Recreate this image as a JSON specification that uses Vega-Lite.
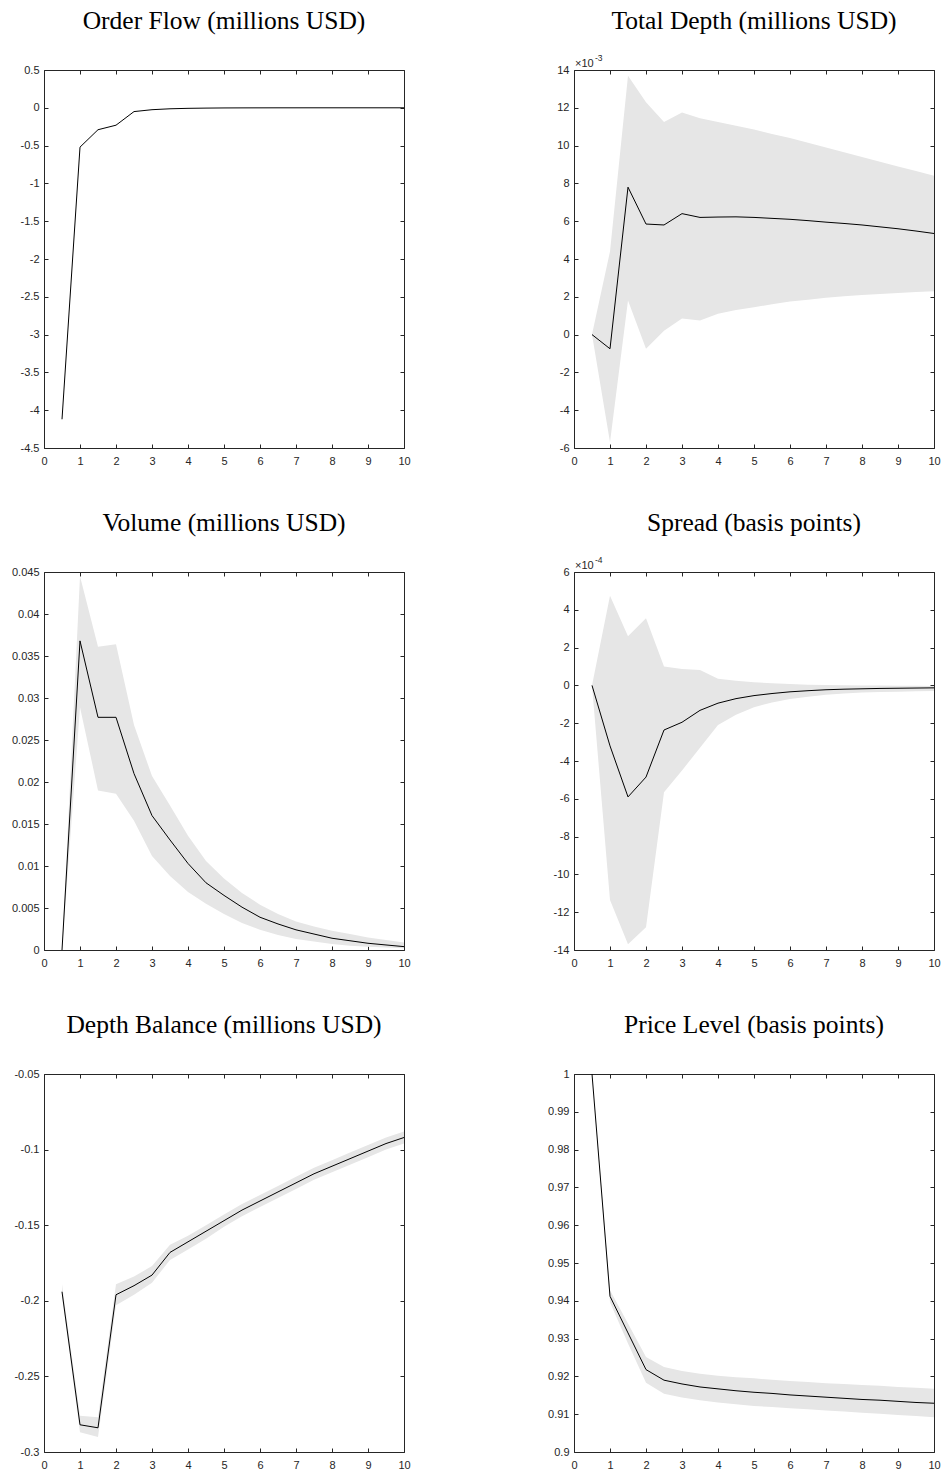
{
  "$schema": "https://vega.github.io/schema/vega-lite/v6.json",
  "background": "white",
  "padding": {"left": 11, "top": 8, "right": 5, "bottom": 2},
  "datasets": {
    "irf": [
      {"p":"of","x":0.5,"y":-4.12},{"p":"of","x":1,"y":-0.52},{"p":"of","x":1.5,"y":-0.29},{"p":"of","x":2,"y":-0.23},{"p":"of","x":2.5,"y":-0.05},{"p":"of","x":3,"y":-0.025},{"p":"of","x":3.5,"y":-0.013},{"p":"of","x":4,"y":-0.007},{"p":"of","x":4.5,"y":-0.004},{"p":"of","x":5,"y":-0.002},{"p":"of","x":5.5,"y":-0.001},{"p":"of","x":6,"y":-0.0006},{"p":"of","x":6.5,"y":-0.0003},{"p":"of","x":7,"y":-0.0002},{"p":"of","x":7.5,"y":-0.0001},{"p":"of","x":8,"y":-0.0001},{"p":"of","x":8.5,"y":0},{"p":"of","x":9,"y":0},{"p":"of","x":9.5,"y":0},{"p":"of","x":10,"y":0},

      {"p":"td","x":0.5,"y":0,"lo":0,"hi":0},{"p":"td","x":1,"y":-0.00075,"lo":-0.0057,"hi":0.0044},{"p":"td","x":1.5,"y":0.0078,"lo":0.0018,"hi":0.0137},{"p":"td","x":2,"y":0.00585,"lo":-0.00075,"hi":0.0123},{"p":"td","x":2.5,"y":0.0058,"lo":0.0002,"hi":0.01125},{"p":"td","x":3,"y":0.0064,"lo":0.00085,"hi":0.01175},{"p":"td","x":3.5,"y":0.0062,"lo":0.00075,"hi":0.01145},{"p":"td","x":4,"y":0.00622,"lo":0.0011,"hi":0.01125},{"p":"td","x":4.5,"y":0.00623,"lo":0.0013,"hi":0.01105},{"p":"td","x":5,"y":0.0062,"lo":0.00145,"hi":0.01085},{"p":"td","x":5.5,"y":0.00615,"lo":0.0016,"hi":0.01062},{"p":"td","x":6,"y":0.0061,"lo":0.00175,"hi":0.0104},{"p":"td","x":6.5,"y":0.00603,"lo":0.00185,"hi":0.01015},{"p":"td","x":7,"y":0.00595,"lo":0.00195,"hi":0.0099},{"p":"td","x":7.5,"y":0.00588,"lo":0.00203,"hi":0.00965},{"p":"td","x":8,"y":0.0058,"lo":0.0021,"hi":0.0094},{"p":"td","x":8.5,"y":0.0057,"lo":0.00215,"hi":0.00915},{"p":"td","x":9,"y":0.0056,"lo":0.0022,"hi":0.0089},{"p":"td","x":9.5,"y":0.00548,"lo":0.00225,"hi":0.00865},{"p":"td","x":10,"y":0.00535,"lo":0.0023,"hi":0.0084},

      {"p":"vol","x":0.5,"y":0,"lo":0,"hi":0},{"p":"vol","x":1,"y":0.0368,"lo":0.0289,"hi":0.0445},{"p":"vol","x":1.5,"y":0.0277,"lo":0.019,"hi":0.0361},{"p":"vol","x":2,"y":0.0277,"lo":0.0186,"hi":0.0364},{"p":"vol","x":2.5,"y":0.021,"lo":0.0154,"hi":0.0268},{"p":"vol","x":3,"y":0.016,"lo":0.0112,"hi":0.0207},{"p":"vol","x":3.5,"y":0.0131,"lo":0.0088,"hi":0.0172},{"p":"vol","x":4,"y":0.0103,"lo":0.0069,"hi":0.0136},{"p":"vol","x":4.5,"y":0.008,"lo":0.0055,"hi":0.0106},{"p":"vol","x":5,"y":0.0065,"lo":0.0043,"hi":0.0085},{"p":"vol","x":5.5,"y":0.0051,"lo":0.0032,"hi":0.0068},{"p":"vol","x":6,"y":0.0039,"lo":0.0024,"hi":0.0054},{"p":"vol","x":6.5,"y":0.0031,"lo":0.0018,"hi":0.0043},{"p":"vol","x":7,"y":0.0024,"lo":0.0013,"hi":0.0034},{"p":"vol","x":7.5,"y":0.0019,"lo":0.001,"hi":0.0028},{"p":"vol","x":8,"y":0.0014,"lo":0.0007,"hi":0.0023},{"p":"vol","x":8.5,"y":0.0011,"lo":0.0005,"hi":0.0019},{"p":"vol","x":9,"y":0.0008,"lo":0.0004,"hi":0.0015},{"p":"vol","x":9.5,"y":0.0006,"lo":0.0003,"hi":0.0012},{"p":"vol","x":10,"y":0.0004,"lo":0.0002,"hi":0.0009},

      {"p":"sp","x":0.5,"y":0,"lo":0,"hi":0},{"p":"sp","x":1,"y":-0.00032,"lo":-0.001135,"hi":0.000475},{"p":"sp","x":1.5,"y":-0.00059,"lo":-0.00137,"hi":0.00026},{"p":"sp","x":2,"y":-0.000485,"lo":-0.00128,"hi":0.000355},{"p":"sp","x":2.5,"y":-0.000236,"lo":-0.000565,"hi":0.0001},{"p":"sp","x":3,"y":-0.000195,"lo":-0.00045,"hi":0.000087},{"p":"sp","x":3.5,"y":-0.000132,"lo":-0.00033,"hi":0.000082},{"p":"sp","x":4,"y":-0.000094,"lo":-0.00021,"hi":0.000035},{"p":"sp","x":4.5,"y":-0.00007,"lo":-0.000155,"hi":0.000025},{"p":"sp","x":5,"y":-0.000054,"lo":-0.000115,"hi":0.000017},{"p":"sp","x":5.5,"y":-0.000043,"lo":-0.00009,"hi":0.000011},{"p":"sp","x":6,"y":-0.000034,"lo":-0.000072,"hi":0.000007},{"p":"sp","x":6.5,"y":-0.000028,"lo":-0.00006,"hi":0.000004},{"p":"sp","x":7,"y":-0.000023,"lo":-0.00005,"hi":0.000002},{"p":"sp","x":7.5,"y":-0.00002,"lo":-0.000043,"hi":0.000001},{"p":"sp","x":8,"y":-0.000018,"lo":-0.000038,"hi":0},{"p":"sp","x":8.5,"y":-0.000016,"lo":-0.000035,"hi":-0.000001},{"p":"sp","x":9,"y":-0.000015,"lo":-0.000033,"hi":-0.000002},{"p":"sp","x":9.5,"y":-0.000014,"lo":-0.000031,"hi":-0.000002},{"p":"sp","x":10,"y":-0.000013,"lo":-0.00003,"hi":-0.000003},

      {"p":"db","x":0.5,"y":-0.194,"lo":-0.197,"hi":-0.189},{"p":"db","x":1,"y":-0.282,"lo":-0.287,"hi":-0.276},{"p":"db","x":1.5,"y":-0.284,"lo":-0.29,"hi":-0.277},{"p":"db","x":2,"y":-0.196,"lo":-0.203,"hi":-0.189},{"p":"db","x":2.5,"y":-0.19,"lo":-0.196,"hi":-0.184},{"p":"db","x":3,"y":-0.183,"lo":-0.188,"hi":-0.177},{"p":"db","x":3.5,"y":-0.168,"lo":-0.173,"hi":-0.163},{"p":"db","x":4,"y":-0.161,"lo":-0.166,"hi":-0.157},{"p":"db","x":4.5,"y":-0.154,"lo":-0.159,"hi":-0.15},{"p":"db","x":5,"y":-0.147,"lo":-0.151,"hi":-0.143},{"p":"db","x":5.5,"y":-0.14,"lo":-0.144,"hi":-0.136},{"p":"db","x":6,"y":-0.134,"lo":-0.138,"hi":-0.13},{"p":"db","x":6.5,"y":-0.128,"lo":-0.132,"hi":-0.124},{"p":"db","x":7,"y":-0.122,"lo":-0.126,"hi":-0.118},{"p":"db","x":7.5,"y":-0.116,"lo":-0.12,"hi":-0.112},{"p":"db","x":8,"y":-0.111,"lo":-0.115,"hi":-0.107},{"p":"db","x":8.5,"y":-0.106,"lo":-0.11,"hi":-0.102},{"p":"db","x":9,"y":-0.101,"lo":-0.105,"hi":-0.097},{"p":"db","x":9.5,"y":-0.096,"lo":-0.1,"hi":-0.092},{"p":"db","x":10,"y":-0.092,"lo":-0.096,"hi":-0.088},

      {"p":"pl","x":0.5,"y":1,"lo":1,"hi":1},{"p":"pl","x":1,"y":0.9412,"lo":0.9396,"hi":0.9428},{"p":"pl","x":1.5,"y":0.9315,"lo":0.9287,"hi":0.934},{"p":"pl","x":2,"y":0.9218,"lo":0.9183,"hi":0.9251},{"p":"pl","x":2.5,"y":0.919,"lo":0.9154,"hi":0.9225},{"p":"pl","x":3,"y":0.918,"lo":0.9144,"hi":0.9214},{"p":"pl","x":3.5,"y":0.9172,"lo":0.9137,"hi":0.9207},{"p":"pl","x":4,"y":0.9167,"lo":0.9131,"hi":0.9202},{"p":"pl","x":4.5,"y":0.9162,"lo":0.9126,"hi":0.9198},{"p":"pl","x":5,"y":0.9158,"lo":0.9122,"hi":0.9195},{"p":"pl","x":5.5,"y":0.9155,"lo":0.9119,"hi":0.9191},{"p":"pl","x":6,"y":0.9151,"lo":0.9116,"hi":0.9188},{"p":"pl","x":6.5,"y":0.9148,"lo":0.9113,"hi":0.9185},{"p":"pl","x":7,"y":0.9145,"lo":0.911,"hi":0.9182},{"p":"pl","x":7.5,"y":0.9142,"lo":0.9107,"hi":0.918},{"p":"pl","x":8,"y":0.9139,"lo":0.9104,"hi":0.9177},{"p":"pl","x":8.5,"y":0.9137,"lo":0.9101,"hi":0.9175},{"p":"pl","x":9,"y":0.9134,"lo":0.9098,"hi":0.9172},{"p":"pl","x":9.5,"y":0.9131,"lo":0.9095,"hi":0.917},{"p":"pl","x":10,"y":0.9129,"lo":0.9092,"hi":0.9167}
    ]
  },
  "columns": 2,
  "spacing": {"row": 124, "column": 170},
  "bounds": "flush",
  "concat": [
    {
      "width": 360, "height": 378,
      "title": {"text": "Order Flow (millions USD)", "offset": 30},
      "layer": [
        {"data": {"name": "irf"}, "transform": [{"filter": "datum.p === 'of'"}],
         "mark": {"type": "area", "color": "#e6e6e6", "clip": true},
         "encoding": {
           "x": {"field": "x", "type": "quantitative", "scale": {"domain": [0, 10], "nice": false, "zero": false}, "axis": {"orient": "bottom", "title": null, "values": [0,1,2,3,4,5,6,7,8,9,10], "labelExpr": "'' + datum.value"}},
           "y": {"field": "lo", "type": "quantitative", "scale": {"domain": [-4.5, 0.5], "nice": false, "zero": false}, "axis": {"orient": "left", "title": null, "values": [-4.5,-4,-3.5,-3,-2.5,-2,-1.5,-1,-0.5,0,0.5], "labelExpr": "'' + datum.value"}},
           "y2": {"field": "hi"}
         }},
        {"data": {"name": "irf"}, "transform": [{"filter": "datum.p === 'of'"}],
         "mark": {"type": "line", "color": "#000000", "strokeWidth": 1, "clip": true},
         "encoding": {
           "x": {"field": "x", "type": "quantitative", "axis": {"orient": "top", "title": null, "values": [0,1,2,3,4,5,6,7,8,9,10]}},
           "y": {"field": "y", "type": "quantitative", "axis": {"orient": "right", "title": null, "values": [-4.5,-4,-3.5,-3,-2.5,-2,-1.5,-1,-0.5,0,0.5]}}
         }}
      ],
      "resolve": {"axis": {"x": "independent", "y": "independent"}}
    },
    {
      "width": 360, "height": 378,
      "title": {"text": "Total Depth (millions USD)", "offset": 20},
      "layer": [
        {"data": {"name": "irf"}, "transform": [{"filter": "datum.p === 'td'"}],
         "mark": {"type": "area", "color": "#e6e6e6", "clip": true},
         "encoding": {
           "x": {"field": "x", "type": "quantitative", "scale": {"domain": [0, 10], "nice": false, "zero": false}, "axis": {"orient": "bottom", "title": null, "values": [0,1,2,3,4,5,6,7,8,9,10], "labelExpr": "'' + datum.value"}},
           "y": {"field": "lo", "type": "quantitative", "scale": {"domain": [-0.006, 0.014], "nice": false, "zero": false}, "axis": {"orient": "left", "title": null, "values": [-0.006,-0.004,-0.002,0,0.002,0.004,0.006,0.008,0.01,0.012,0.014], "labelExpr": "'' + round(datum.value * 1000)"}},
           "y2": {"field": "hi"}
         }},
        {"data": {"name": "irf"}, "transform": [{"filter": "datum.p === 'td'"}],
         "mark": {"type": "line", "color": "#000000", "strokeWidth": 1, "clip": true},
         "encoding": {
           "x": {"field": "x", "type": "quantitative", "axis": {"orient": "top", "title": null, "values": [0,1,2,3,4,5,6,7,8,9,10]}},
           "y": {"field": "y", "type": "quantitative", "axis": {"orient": "right", "title": null, "values": [-0.006,-0.004,-0.002,0,0.002,0.004,0.006,0.008,0.01,0.012,0.014]}}
         }},
        {"data": {"values": [{}]},
         "mark": {"type": "text", "text": "×10", "align": "left", "baseline": "alphabetic", "dx": 1, "dy": -3, "font": "Liberation Sans", "fontSize": 11, "color": "#262626"},
         "encoding": {"x": {"datum": 0, "type": "quantitative", "axis": null}, "y": {"datum": 0.014, "type": "quantitative", "axis": null}}},
        {"data": {"values": [{}]},
         "mark": {"type": "text", "text": "-3", "align": "left", "baseline": "alphabetic", "dx": 21, "dy": -9, "font": "Liberation Sans", "fontSize": 8.5, "color": "#262626"},
         "encoding": {"x": {"datum": 0, "type": "quantitative", "axis": null}, "y": {"datum": 0.014, "type": "quantitative", "axis": null}}}
      ],
      "resolve": {"axis": {"x": "independent", "y": "independent"}}
    },
    {
      "width": 360, "height": 378,
      "title": {"text": "Volume (millions USD)", "offset": 30},
      "layer": [
        {"data": {"name": "irf"}, "transform": [{"filter": "datum.p === 'vol'"}],
         "mark": {"type": "area", "color": "#e6e6e6", "clip": true},
         "encoding": {
           "x": {"field": "x", "type": "quantitative", "scale": {"domain": [0, 10], "nice": false, "zero": false}, "axis": {"orient": "bottom", "title": null, "values": [0,1,2,3,4,5,6,7,8,9,10], "labelExpr": "'' + datum.value"}},
           "y": {"field": "lo", "type": "quantitative", "scale": {"domain": [0, 0.045], "nice": false, "zero": false}, "axis": {"orient": "left", "title": null, "values": [0,0.005,0.01,0.015,0.02,0.025,0.03,0.035,0.04,0.045], "labelExpr": "'' + datum.value"}},
           "y2": {"field": "hi"}
         }},
        {"data": {"name": "irf"}, "transform": [{"filter": "datum.p === 'vol'"}],
         "mark": {"type": "line", "color": "#000000", "strokeWidth": 1, "clip": true},
         "encoding": {
           "x": {"field": "x", "type": "quantitative", "axis": {"orient": "top", "title": null, "values": [0,1,2,3,4,5,6,7,8,9,10]}},
           "y": {"field": "y", "type": "quantitative", "axis": {"orient": "right", "title": null, "values": [0,0.005,0.01,0.015,0.02,0.025,0.03,0.035,0.04,0.045]}}
         }}
      ],
      "resolve": {"axis": {"x": "independent", "y": "independent"}}
    },
    {
      "width": 360, "height": 378,
      "title": {"text": "Spread (basis points)", "offset": 20},
      "layer": [
        {"data": {"name": "irf"}, "transform": [{"filter": "datum.p === 'sp'"}],
         "mark": {"type": "area", "color": "#e6e6e6", "clip": true},
         "encoding": {
           "x": {"field": "x", "type": "quantitative", "scale": {"domain": [0, 10], "nice": false, "zero": false}, "axis": {"orient": "bottom", "title": null, "values": [0,1,2,3,4,5,6,7,8,9,10], "labelExpr": "'' + datum.value"}},
           "y": {"field": "lo", "type": "quantitative", "scale": {"domain": [-0.0014, 0.0006], "nice": false, "zero": false}, "axis": {"orient": "left", "title": null, "values": [-0.0014,-0.0012,-0.001,-0.0008,-0.0006,-0.0004,-0.0002,0,0.0002,0.0004,0.0006], "labelExpr": "'' + round(datum.value * 10000)"}},
           "y2": {"field": "hi"}
         }},
        {"data": {"name": "irf"}, "transform": [{"filter": "datum.p === 'sp'"}],
         "mark": {"type": "line", "color": "#000000", "strokeWidth": 1, "clip": true},
         "encoding": {
           "x": {"field": "x", "type": "quantitative", "axis": {"orient": "top", "title": null, "values": [0,1,2,3,4,5,6,7,8,9,10]}},
           "y": {"field": "y", "type": "quantitative", "axis": {"orient": "right", "title": null, "values": [-0.0014,-0.0012,-0.001,-0.0008,-0.0006,-0.0004,-0.0002,0,0.0002,0.0004,0.0006]}}
         }},
        {"data": {"values": [{}]},
         "mark": {"type": "text", "text": "×10", "align": "left", "baseline": "alphabetic", "dx": 1, "dy": -3, "font": "Liberation Sans", "fontSize": 11, "color": "#262626"},
         "encoding": {"x": {"datum": 0, "type": "quantitative", "axis": null}, "y": {"datum": 0.0006, "type": "quantitative", "axis": null}}},
        {"data": {"values": [{}]},
         "mark": {"type": "text", "text": "-4", "align": "left", "baseline": "alphabetic", "dx": 21, "dy": -9, "font": "Liberation Sans", "fontSize": 8.5, "color": "#262626"},
         "encoding": {"x": {"datum": 0, "type": "quantitative", "axis": null}, "y": {"datum": 0.0006, "type": "quantitative", "axis": null}}}
      ],
      "resolve": {"axis": {"x": "independent", "y": "independent"}}
    },
    {
      "width": 360, "height": 378,
      "title": {"text": "Depth Balance (millions USD)", "offset": 30},
      "layer": [
        {"data": {"name": "irf"}, "transform": [{"filter": "datum.p === 'db'"}],
         "mark": {"type": "area", "color": "#e6e6e6", "clip": true},
         "encoding": {
           "x": {"field": "x", "type": "quantitative", "scale": {"domain": [0, 10], "nice": false, "zero": false}, "axis": {"orient": "bottom", "title": null, "values": [0,1,2,3,4,5,6,7,8,9,10], "labelExpr": "'' + datum.value"}},
           "y": {"field": "lo", "type": "quantitative", "scale": {"domain": [-0.3, -0.05], "nice": false, "zero": false}, "axis": {"orient": "left", "title": null, "values": [-0.3,-0.25,-0.2,-0.15,-0.1,-0.05], "labelExpr": "'' + datum.value"}},
           "y2": {"field": "hi"}
         }},
        {"data": {"name": "irf"}, "transform": [{"filter": "datum.p === 'db'"}],
         "mark": {"type": "line", "color": "#000000", "strokeWidth": 1, "clip": true},
         "encoding": {
           "x": {"field": "x", "type": "quantitative", "axis": {"orient": "top", "title": null, "values": [0,1,2,3,4,5,6,7,8,9,10]}},
           "y": {"field": "y", "type": "quantitative", "axis": {"orient": "right", "title": null, "values": [-0.3,-0.25,-0.2,-0.15,-0.1,-0.05]}}
         }}
      ],
      "resolve": {"axis": {"x": "independent", "y": "independent"}}
    },
    {
      "width": 360, "height": 378,
      "title": {"text": "Price Level (basis points)", "offset": 30},
      "layer": [
        {"data": {"name": "irf"}, "transform": [{"filter": "datum.p === 'pl'"}],
         "mark": {"type": "area", "color": "#e6e6e6", "clip": true},
         "encoding": {
           "x": {"field": "x", "type": "quantitative", "scale": {"domain": [0, 10], "nice": false, "zero": false}, "axis": {"orient": "bottom", "title": null, "values": [0,1,2,3,4,5,6,7,8,9,10], "labelExpr": "'' + datum.value"}},
           "y": {"field": "lo", "type": "quantitative", "scale": {"domain": [0.9, 1], "nice": false, "zero": false}, "axis": {"orient": "left", "title": null, "values": [0.9,0.91,0.92,0.93,0.94,0.95,0.96,0.97,0.98,0.99,1], "labelExpr": "'' + datum.value"}},
           "y2": {"field": "hi"}
         }},
        {"data": {"name": "irf"}, "transform": [{"filter": "datum.p === 'pl'"}],
         "mark": {"type": "line", "color": "#000000", "strokeWidth": 1, "clip": true},
         "encoding": {
           "x": {"field": "x", "type": "quantitative", "axis": {"orient": "top", "title": null, "values": [0,1,2,3,4,5,6,7,8,9,10]}},
           "y": {"field": "y", "type": "quantitative", "axis": {"orient": "right", "title": null, "values": [0.9,0.91,0.92,0.93,0.94,0.95,0.96,0.97,0.98,0.99,1]}}
         }}
      ],
      "resolve": {"axis": {"x": "independent", "y": "independent"}}
    }
  ],
  "config": {
    "view": {"stroke": null},
    "axis": {
      "grid": false,
      "domainColor": "#262626",
      "domainWidth": 1,
      "tickColor": "#262626",
      "tickWidth": 1,
      "tickSize": -4,
      "labelColor": "#262626",
      "labelFont": "Liberation Sans",
      "labelFontSize": 11,
      "labelFlush": false,
      "labelOverlap": false,
      "zindex": 1
    },
    "axisBottom": {"labelPadding": 11},
    "axisLeft": {"labelPadding": 9},
    "axisTop": {"labels": false},
    "axisRight": {"labels": false},
    "title": {
      "font": "Liberation Serif",
      "fontSize": 25.5,
      "fontWeight": "normal",
      "color": "#000000",
      "anchor": "middle",
      "frame": "group",
      "baseline": "alphabetic"
    }
  }
}
